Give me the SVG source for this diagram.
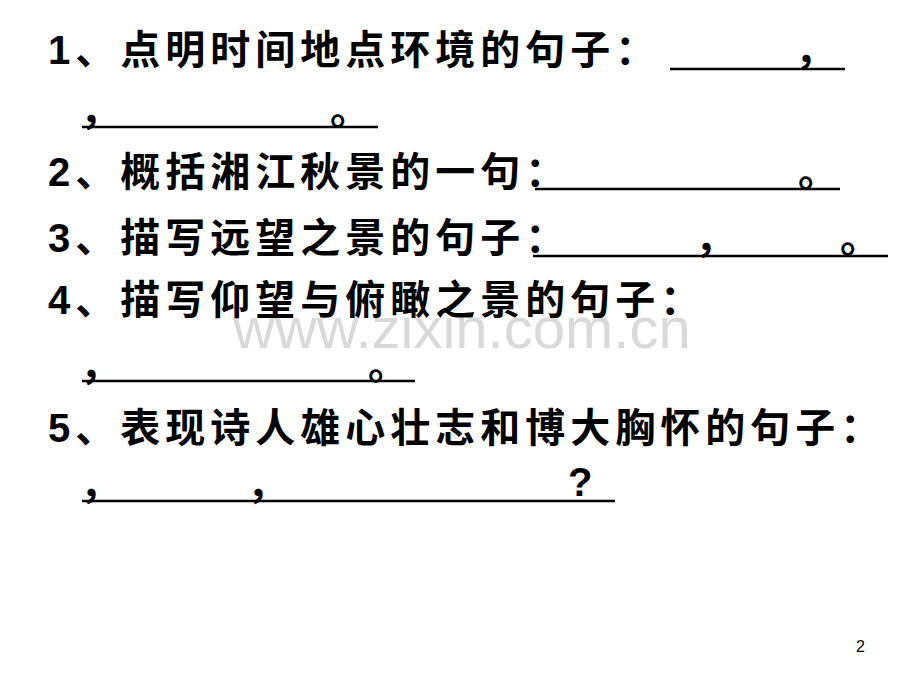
<svg xmlns="http://www.w3.org/2000/svg" width="920" height="690" viewBox="0 0 920 690">
<style>
.t{font-family:"Liberation Sans","Noto Sans CJK SC",sans-serif;font-size:40px;font-weight:bold;fill:#000;letter-spacing:5px}
.p{font-family:"Liberation Sans","Noto Sans CJK SC",sans-serif;font-size:40px;font-weight:bold;fill:#000}
.u{stroke:#000;stroke-width:2.5}
.w{font-family:"Liberation Sans",sans-serif;font-size:58px;fill:#d9d9d9}
</style>
<rect width="920" height="690" fill="#fff"/>
<text class="w" x="233" y="348">www.zixin.com.cn</text>
<g id="line1"><text class="t" x="48" y="64">1、点明时间地点环境的句子：</text>
<line class="u" x1="670" y1="69" x2="845" y2="69"/><text class="p" x="795" y="64">，</text></g>
<g id="line1b"><text class="p" x="80" y="124">，</text><text class="p" x="330" y="124">。</text>
<line class="u" x1="82" y1="127" x2="378" y2="127"/></g>
<g id="line2"><text class="t" x="48" y="186">2、概括湘江秋景的一句：</text>
<line class="u" x1="535" y1="189" x2="840" y2="189"/><text class="p" x="798" y="186">。</text></g>
<g id="line3"><text class="t" x="48" y="252">3、描写远望之景的句子：</text>
<line class="u" x1="533" y1="256" x2="888" y2="256"/><text class="p" x="695" y="252">，</text><text class="p" x="840" y="252">。</text></g>
<g id="line4"><text class="t" x="48" y="314">4、描写仰望与俯瞰之景的句子：</text></g>
<g id="line4b"><text class="p" x="80" y="379">，</text><text class="p" x="368" y="379">。</text>
<line class="u" x1="82" y1="381" x2="415" y2="381"/></g>
<g id="line5"><text class="t" x="48" y="442">5、表现诗人雄心壮志和博大胸怀的句子：</text></g>
<g id="line5b"><text class="p" x="80" y="498">，</text><text class="p" x="247" y="498">，</text><text class="p" x="568" y="496">?</text>
<line class="u" x1="82" y1="501" x2="615" y2="501"/></g>
<text x="856" y="652" font-family="Liberation Sans,sans-serif" font-size="16">2</text>
</svg>
